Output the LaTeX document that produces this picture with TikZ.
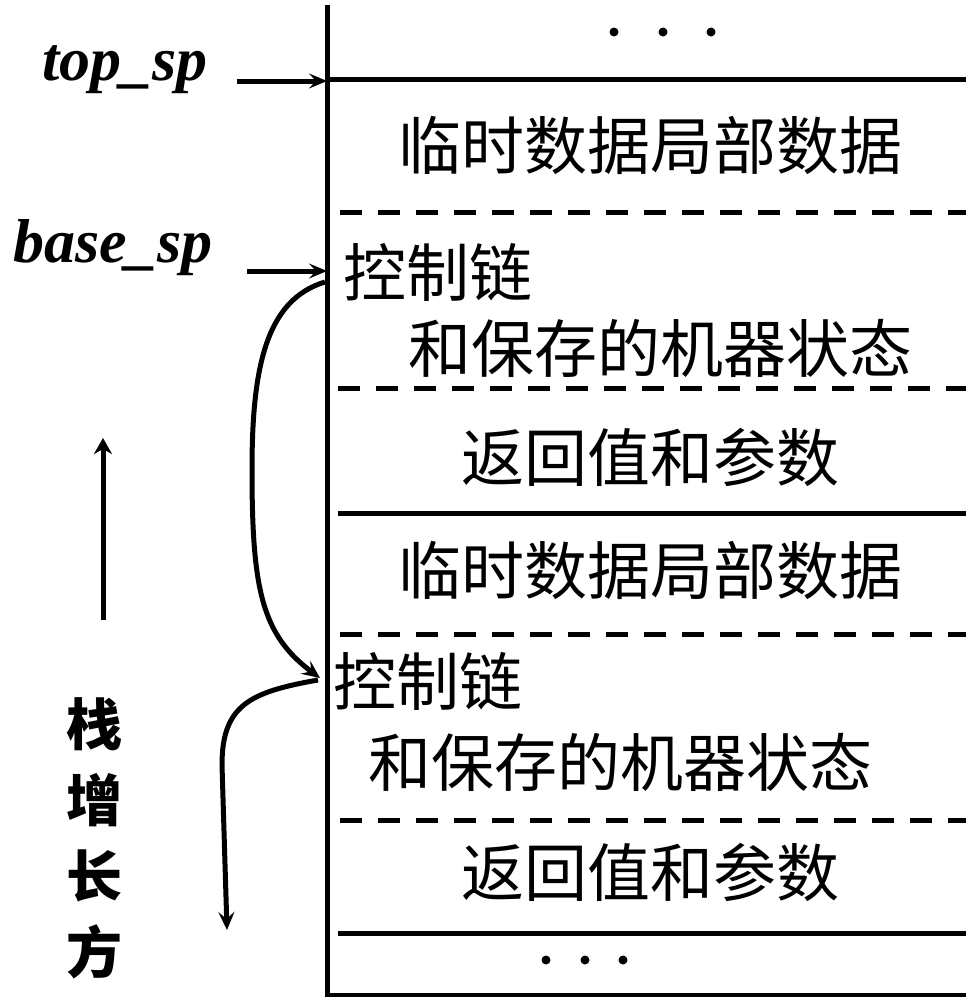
\documentclass[tikz,border=0pt]{standalone}
\usepackage{fontspec}
\setmainfont{Liberation Serif}
\newfontfamily\cjk{Noto Sans CJK SC}
\usetikzlibrary{arrows.meta}
\begin{document}
\begin{tikzpicture}[x=1pt,y=-1pt,
  frameline/.style={line width=5pt},
  dashline/.style={line width=5pt,dash pattern=on 22pt off 16pt},
  celltext/.style={font=\cjk\fontsize{63}{70}\selectfont,inner sep=0pt},
  ptrlabel/.style={font=\bfseries\itshape\fontsize{62}{70}\selectfont,inner sep=0pt,anchor=base west},
  ptrarrow/.style={line width=5pt,-{Stealth[length=18pt,width=15pt,inset=7pt]}},
  linkarrow/.style={line width=5pt,-{Stealth[length=18pt,width=16pt,inset=7pt]}},
  dotmark/.style={circle,fill=black,inner sep=0pt,minimum size=9pt}
]
\useasboundingbox (0,0) rectangle (966,997);
% frame
\draw[frameline] (327,5) -- (327,995) -- (966,995);
\draw[frameline] (327,79) -- (966,79);
\draw[frameline] (338,513) -- (966,513);
\draw[frameline] (338,933) -- (966,933);
\draw[dashline] (340,212) -- (966,212);
\draw[dashline] (338,388) -- (966,388);
\draw[dashline] (340,634) -- (966,634);
\draw[dashline] (340,820) -- (966,820);
% dots
\node[dotmark] (d1) at (614,32) {};
\node[dotmark] (d2) at (663,32) {};
\node[dotmark] (d3) at (711,32) {};
\node[dotmark] (d4) at (546,960) {};
\node[dotmark] (d5) at (585,960) {};
\node[dotmark] (d6) at (623,960) {};
% cell texts
\node[celltext] (t1) at (650,145) {临时数据局部数据};
\node[celltext,anchor=west] (c1) at (343,272) {控制链};
\node[celltext] (m1) at (660,348) {和保存的机器状态};
\node[celltext] (r1) at (650,457) {返回值和参数};
\node[celltext] (t2) at (650,570) {临时数据局部数据};
\node[celltext,anchor=west] (c2) at (333,681) {控制链};
\node[celltext] (m2) at (620,762) {和保存的机器状态};
\node[celltext] (r2) at (650,872) {返回值和参数};
% pointer labels
\node[ptrlabel] (top) at (42,80) {top\_sp};
\node[ptrlabel] (base) at (13,262) {base\_sp};
\coordinate (topS) at (237,81);
\coordinate (topE) at (327,81);
\coordinate (baseS) at (247,271);
\coordinate (baseE) at (327,271);
\draw[ptrarrow] (topS) -- (topE);
\draw[ptrarrow] (baseS) -- (baseE);
% control links
\coordinate (l1s) at (325,282);
\coordinate (l1e) at (320,678);
\coordinate (l2s) at (318,680);
\coordinate (l2m) at (222,765);
\coordinate (l2e) at (227,930);
\draw[linkarrow] (l1s) .. controls (265,300) and (252,370) .. (252,470)
  .. controls (252,590) and (262,635) .. (l1e);
\draw[linkarrow] (l2s) .. controls (250,692) and (222,705) .. (l2m) -- (l2e);
% stack growth
\coordinate (gs) at (103,620);
\coordinate (ge) at (103,438);
\draw[line width=5pt,-{Stealth[length=16pt,width=18pt,inset=5pt]}] (gs) -- (ge);
\node[font=\cjk\bfseries\fontsize{56}{76}\selectfont,align=center,inner sep=0pt] (grow) at (94,838) {栈\\增\\长\\方};
\end{tikzpicture}
\end{document}
